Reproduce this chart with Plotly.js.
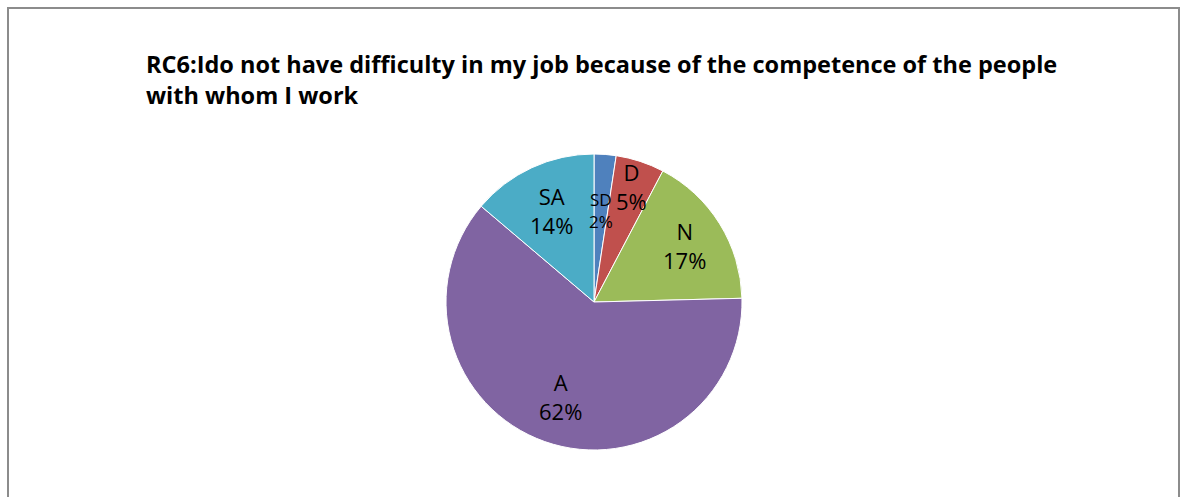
<!DOCTYPE html>
<html>
<head>
<meta charset="utf-8">
<script src="https://cdn.plot.ly/plotly-3.0.1.min.js"></script>
<style>
  html, body { margin: 0; padding: 0; background: #ffffff; }
  #wrap { position: relative; width: 1181px; height: 497px; overflow: hidden; }
  #chart { position: absolute; left: 0; top: 0; width: 1181px; height: 497px; }
  #frame { position: absolute; left: 7px; top: 7px; width: 1173px; height: 520px;
           border: 2px solid #8c8c8c; pointer-events: none; box-sizing: border-box; }
</style>
</head>
<body>
<div id="wrap">
  <div id="chart"></div>
  <div id="frame"></div>
</div>
<script>
const categories = ["SD", "D", "N", "A", "SA"];
const values = [2.4, 5.3, 16.9, 61.6, 13.8];
const colors = ["#4F81BD", "#C0504D", "#9BBB59", "#8064A2", "#4BACC6"];
const titleText = "RC6:Ido not have difficulty in my job because of the competence of the people<br>with whom I work";

// label styling (distance from centre as a fraction of radius, font size)
const labelRadius = [0.62, 0.82, 0.72, 0.68, 0.68];
const labelSize = [17, 22, 22, 22, 22];

const W = 1181, H = 497;
const cx = 594, cy = 302, r = 148;

const trace = {
  type: "pie",
  labels: categories,
  values: values,
  sort: false,
  direction: "clockwise",
  rotation: 0,
  marker: { colors: colors, line: { color: "#ffffff", width: 1 } },
  textinfo: "none",
  hoverinfo: "label+percent",
  domain: { x: [(cx - r) / W, (cx + r) / W], y: [1 - (cy + r) / H, 1 - (cy - r) / H] },
  showlegend: false
};

// slice labels placed at each slice's mid-angle (clockwise from 12 o'clock)
const total = values.reduce((a, b) => a + b, 0);
let cum = 0;
const annotations = categories.map((cat, i) => {
  const mid = (cum + values[i] / 2) / total * 2 * Math.PI;
  cum += values[i];
  const px = cx + labelRadius[i] * r * Math.sin(mid);
  const py = cy - labelRadius[i] * r * Math.cos(mid);
  return {
    xref: "paper", yref: "paper",
    x: px / W, y: 1 - py / H,
    xanchor: "center", yanchor: "middle",
    showarrow: false,
    text: cat + "<br>" + Math.round(values[i] / total * 100) + "%",
    font: { family: "'Open Sans', sans-serif", size: labelSize[i], color: "#000000" }
  };
});

const layout = {
  width: W, height: H,
  margin: { l: 0, r: 0, t: 0, b: 0 },
  paper_bgcolor: "rgba(0,0,0,0)",
  plot_bgcolor: "rgba(0,0,0,0)",
  showlegend: false,
  annotations: annotations,
  title: {
    text: "<b>" + titleText + "</b>",
    x: 146 / W, xanchor: "left", xref: "paper",
    y: 1 - 73 / H, yanchor: "top", yref: "container",
    font: { family: "'Open Sans', sans-serif", size: 23.5, color: "#000000" }
  }
};

Plotly.newPlot("chart", [trace], layout, { displayModeBar: false, staticPlot: true });
</script>
</body>
</html>
